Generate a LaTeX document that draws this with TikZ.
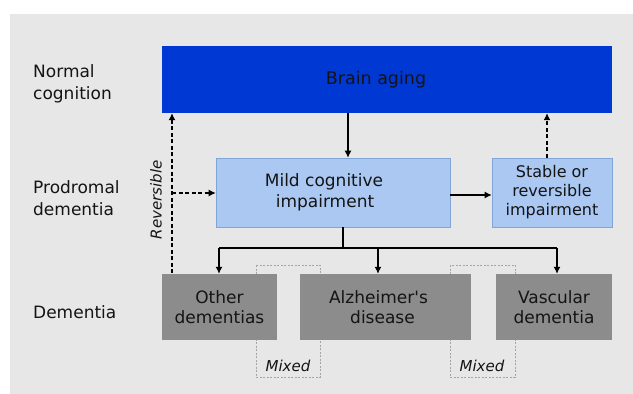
\documentclass[tikz,border=0pt]{standalone}
\usepackage{fontspec}
\setmainfont{DejaVu Sans}
\newfontfamily\dvplain{DejaVu Sans}
\usetikzlibrary{arrows.meta}
\definecolor{bggray}{RGB}{231,231,231}
\definecolor{brainblue}{RGB}{0,56,212}
\definecolor{mcifill}{RGB}{170,200,242}
\definecolor{mciedge}{RGB}{130,165,215}
\definecolor{demgray}{RGB}{140,140,140}
\definecolor{mixgray}{RGB}{165,165,165}
\definecolor{txt}{RGB}{20,20,20}
\tikzset{
  rowlabel/.style={anchor=west, align=left, font=\fontsize{17}{22}\selectfont, text=txt, inner sep=0pt},
  topbox/.style={fill=brainblue, draw=none, inner sep=0pt, font=\fontsize{17.5}{22}\selectfont, text=txt},
  midbox/.style={fill=mcifill, draw=mciedge, line width=0.6pt, inner sep=0pt, align=center, text=txt},
  dembox/.style={fill=demgray, draw=none, inner sep=0pt, align=center, font=\fontsize{17}{20.5}\selectfont, text=txt},
  mixbox/.style={draw=mixgray, dash pattern=on 2pt off 1.5pt, line width=0.6pt},
  conn/.style={line width=1.2pt, -{Latex[length=7pt,width=7pt]}, draw=black},
  dconn/.style={line width=1.2pt, dash pattern=on 4pt off 2.5pt, -{Latex[length=7pt,width=7pt]}, draw=black},
  italab/.style={font=\fontsize{15}{18}\selectfont\itshape, text=txt, inner sep=0pt}
}
\begin{document}
\begin{tikzpicture}[x=1pt,y=-1pt]
\useasboundingbox (0,0) rectangle (633,394);
\fill[white] (0,0) rectangle (633,394);
\fill[bggray] (10,14) rectangle (633,394);

% mixed dashed rectangles (behind)
\draw[mixbox] (256,265) rectangle (320,377);
\draw[mixbox] (450,265) rectangle (515,377);
\node[italab] (mix1) at (288,366) {Mixed};
\node[italab] (mix2) at (482,366) {Mixed};

% row labels
\node[rowlabel] (lnorm) at (33,84) {Normal\\cognition};
\node[rowlabel] (lprod) at (33,198) {Prodromal\\dementia};
\node[rowlabel] (ldem) at (33,312) {Dementia};

% boxes
\node[topbox, minimum width=450pt, minimum height=67pt] (brain) at (387,79.5) {Brain aging\hspace*{22pt}};
\node[midbox, minimum width=234pt, minimum height=69pt, font=\fontsize{17}{21}\selectfont] (mci) at (333,192.5) {Mild cognitive\hspace*{18pt}\\impairment\hspace*{16pt}};
\node[midbox, minimum width=120pt, minimum height=69pt, font=\fontsize{16}{19}\selectfont] (stable) at (552,192.5) {Stable or\\reversible\\impairment};
\node[dembox, minimum width=115pt, minimum height=66pt] (other) at (219.5,307) {Other\\dementias};
\node[dembox, minimum width=171pt, minimum height=66pt] (alz) at (385.5,307) {{\dvplain Alzheimer's}\hspace*{14pt}\\disease\hspace*{6pt}};
\node[dembox, minimum width=116pt, minimum height=66pt] (vasc) at (554,307) {Vascular\\dementia};

% connectors
\draw[conn] (brain.south -| 348,0) -- (mci.north -| 348,0);
\draw[dconn] (stable.north -| 547,0) -- (brain.south -| 547,0);
\draw[conn] (mci.east |- 0,195) -- (stable.west |- 0,195);

\coordinate (split) at (343,248);
\draw[line width=1.2pt] (mci.south -| split) -- (split);
\draw[line width=1.2pt] (219,248) -- (557,248);
\draw[conn] (219,248) -- (other.north -| 219,0);
\draw[conn] (378,248) -- (alz.north -| 378,0);
\draw[conn] (557,248) -- (vasc.north -| 557,0);

% reversible
\coordinate (revbot) at (172,273);
\draw[dconn] (revbot) -- (brain.south -| revbot);
\draw[dconn] (172,193) -- (mci.west |- 0,193);
\node[italab, rotate=90] (rev) at (156,200) {Reversible};
\end{tikzpicture}
\end{document}
